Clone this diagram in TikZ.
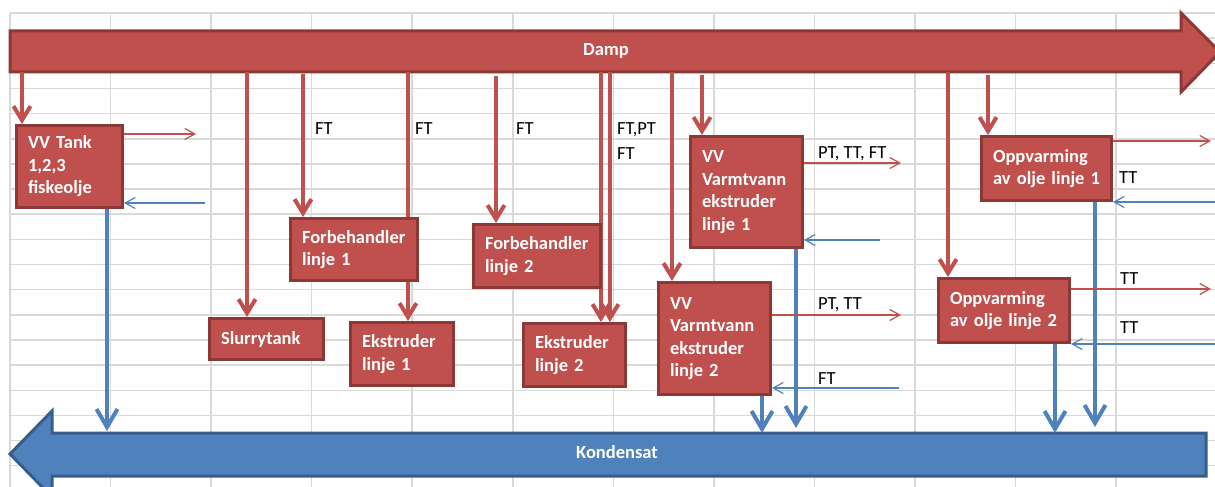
\documentclass[tikz,border=0pt]{standalone}
\usepackage{fontspec}
\setmainfont{Carlito}
\usetikzlibrary{arrows.meta}
\definecolor{steamred}{HTML}{C0504D}
\definecolor{steamedge}{HTML}{8C3836}
\definecolor{condblue}{HTML}{4F81BD}
\definecolor{condedge}{HTML}{385D8A}
\definecolor{gridgray}{HTML}{D9D9D9}
\hyphenpenalty=10000
\exhyphenpenalty=10000
\pgfdeclarelayer{background}
\pgfsetlayers{background,main}

\begin{document}
\begin{tikzpicture}[x=1pt,y=-1pt,
  gridline/.style={draw=gridgray, line width=1.5pt},
  unit/.style={draw=steamedge, fill=steamred, line width=3pt, text=white,
    font=\fontsize{18.5}{22.5}\selectfont\bfseries, align=left,
    inner xsep=11.5pt, inner ysep=0pt},
  mainlabel/.style={text=white, font=\fontsize{18.5}{22.5}\selectfont\bfseries, inner sep=0pt},
  tag/.style={font=\fontsize{18.5}{22.5}\selectfont, text=black, inner sep=0pt, anchor=base west},
  tap/.style={draw=steamred, line width=4pt, -{Straight Barb[length=14pt,width=17pt]}},
  drain/.style={draw=condblue, line width=4pt, -{Straight Barb[length=18pt,width=21pt]}},
  flowout/.style={draw=steamred, line width=1.2pt, -{Straight Barb[length=10pt,width=11pt]}},
  flowin/.style={draw=condblue, line width=1.2pt, -{Straight Barb[length=10pt,width=11pt]}},
]
\useasboundingbox (0,0) rectangle (1215,487);

\begin{pgfonlayer}{background}
\fill[white] (0,0) rectangle (1215,487);
% spreadsheet grid
\foreach \k in {0,...,11}
  \draw[gridline] ({10+100.55*\k},13) -- ({10+100.55*\k},487);
\foreach \k in {0,...,18}
  \draw[gridline] (10,{13+25.15*\k}) -- (1215,{13+25.15*\k});

% steam header (Damp), pointing right
\draw[draw=steamedge, fill=steamred, line width=3pt, line join=miter]
  (10,31) -- (1181,31) -- (1181,13) -- (1220,52) -- (1181,92) -- (1181,72) -- (10,72) -- cycle;
% condensate return (Kondensat), pointing left
\draw[draw=condedge, fill=condblue, line width=3pt, line join=miter]
  (52,433) -- (1206,433) -- (1206,476) -- (52,476) -- (52,497) -- (10,454) -- (52,411) -- cycle;
\end{pgfonlayer}

\node[mainlabel] (damp) at (606,51) {Damp};
\node[mainlabel] (kond) at (617,452) {Kondensat};

% steam taps along the underside of the header
\coordinate (t1) at (22,72);
\coordinate (t2) at (247,72);
\coordinate (t3) at (303,74);
\coordinate (t4) at (408,72);
\coordinate (t5) at (496,76);
\coordinate (t6) at (601,72);
\coordinate (t7) at (610,72);
\coordinate (t8) at (672,72);
\coordinate (t9) at (702,75);
\coordinate (t10) at (948,72);
\coordinate (t11) at (988,75);

% condensate drain ends on the top of the return line
\coordinate (b1) at (107,431);
\coordinate (b2) at (762,433);
\coordinate (b3) at (796,428);
\coordinate (b4) at (1055,433);
\coordinate (b5) at (1095,427);

% consumers
\node[unit, text width=83pt, minimum height=82pt] (tank) at (69.5,166.5) {VV~Tank\\1,2,3\\fiskeolje};
\node[unit, text width=104pt, minimum height=62pt] (forb1) at (354,249.5) {Forbehandler\\linje~1};
\node[unit, text width=91pt, minimum height=41pt] (slurry) at (266.5,339) {Slurrytank};
\node[unit, text width=80pt, minimum height=63pt] (ek1) at (402,354) {Ekstruder\\linje~1};
\node[unit, text width=104pt, minimum height=63pt] (forb2) at (537,256) {Forbehandler\\linje~2};
\node[unit, text width=79pt, minimum height=63pt] (ek2) at (574.5,355) {Ekstruder\\linje~2};
\node[unit, text width=89pt, minimum height=111pt] (vv1) at (746.5,192) {VV\\Varmtvann\\ekstruder\\linje~1};
\node[unit, text width=89pt, minimum height=112pt] (vv2) at (714.5,338.5) {VV\\Varmtvann\\ekstruder\\linje~2};
\node[unit, text width=107pt, minimum height=64pt] (opp1) at (1046.5,168.5) {Oppvarming\\av~olje~linje~1};
\node[unit, text width=108pt, minimum height=64pt] (opp2) at (1004,310.5) {Oppvarming\\av~olje~linje~2};

% long taps that run behind the pre-treatment boxes
\begin{pgfonlayer}{background}
\draw[tap] (t4) -- (t4 |- ek1.north);
\draw[tap] (t6) -- (t6 |- ek2.north);
\draw[tap] (t7) -- (t7 |- ek2.north);
\end{pgfonlayer}

% the other taps
\draw[tap] (t1) -- (t1 |- tank.north);
\draw[tap] (t2) -- (t2 |- slurry.north);
\draw[tap] (t3) -- (t3 |- forb1.north);
\draw[tap] (t5) -- (t5 |- forb2.north);
\draw[tap] (t8) -- (t8 |- vv2.north);
\draw[tap] (t9) -- (t9 |- vv1.north);
\draw[tap] (t10) -- (t10 |- opp2.north);
\draw[tap] (t11) -- (t11 |- opp1.north);

% condensate drains
\draw[drain] (b1 |- tank.south) -- (b1);
\draw[drain] (b2 |- vv2.south) -- (b2);
\draw[drain] (b3 |- vv1.south) -- (b3);
\draw[drain] (b4 |- opp2.south) -- (b4);
\draw[drain] (b5 |- opp1.south) -- (b5);

% supply and return lines to the right of the units
\coordinate (tankOut) at (196,134);
\coordinate (tankRet) at (205,203);
\coordinate (vv1Out) at (901,163);
\coordinate (vv1Ret) at (880,240);
\coordinate (vv2Out) at (901,315);
\coordinate (vv2Ret) at (899,388);
\coordinate (opp1Out) at (1211,141);
\coordinate (opp1Ret) at (1215,202);
\coordinate (opp2Out) at (1211,289);
\coordinate (opp2Ret) at (1215,344);

\draw[flowout] (tankOut -| tank.east) -- (tankOut);
\draw[flowin] (tankRet) -- (tankRet -| tank.east);
\draw[flowout] (vv1Out -| vv1.east) -- (vv1Out);
\draw[flowin] (vv1Ret) -- (vv1Ret -| vv1.east);
\draw[flowout] (vv2Out -| vv2.east) -- (vv2Out);
\draw[flowin] (vv2Ret) -- (vv2Ret -| vv2.east);
\draw[flowout] (opp1Out -| opp1.east) -- (opp1Out);
\draw[flowin] (opp1Ret) -- (opp1Ret -| opp1.east);
\draw[flowout] (opp2Out -| opp2.east) -- (opp2Out);
\draw[flowin] (opp2Ret) -- (opp2Ret -| opp2.east);

% instrument tags
\node[tag] (ftA) at (315,134) {FT};
\node[tag] (ftB) at (415,134) {FT};
\node[tag] (ftC) at (516,134) {FT};
\node[tag] (ftpt) at (617,134) {FT,PT};
\node[tag] (ftD) at (617,159) {FT};
\node[tag] (vv1tag) at (818,158) {PT, TT, FT};
\node[tag] (vv2tag) at (818,309) {PT, TT};
\node[tag] (vv2ret) at (818,384) {FT};
\node[tag] (opp1tag) at (1119,183) {TT};
\node[tag] (opp2tag) at (1120,284) {TT};
\node[tag] (opp2ret) at (1120,333) {TT};
\end{tikzpicture}
\end{document}
